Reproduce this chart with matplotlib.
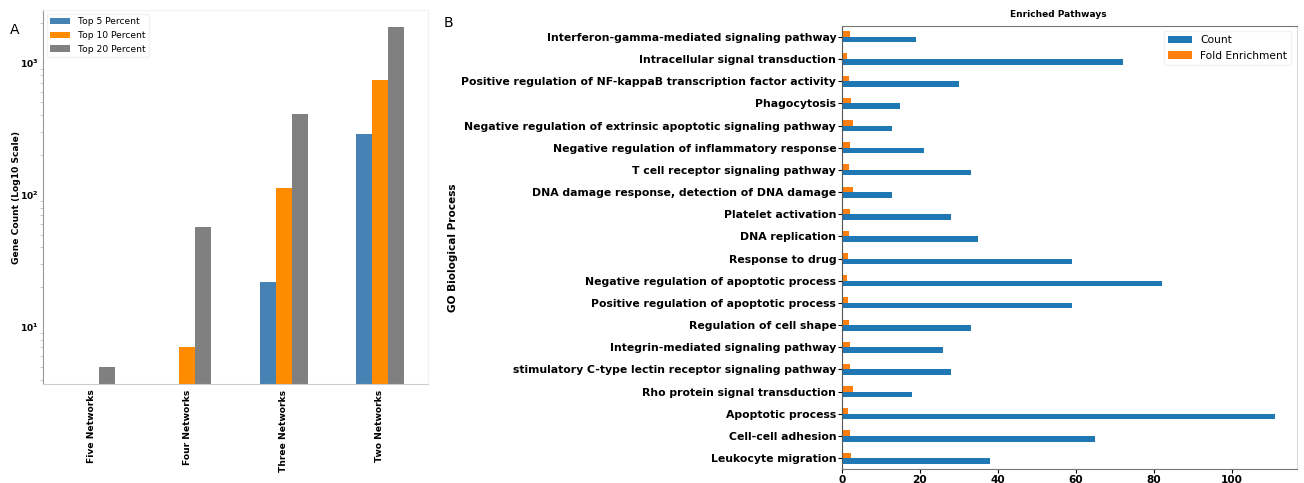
import numpy as np
import matplotlib
matplotlib.use('Agg')
import matplotlib.pyplot as plt

# panel A data
networks = ['Five Networks', 'Four Networks', 'Three Networks', 'Two Networks']
top5 = [np.nan, np.nan, 22, 288]
top10 = [np.nan, 7, 112, 740]
top20 = [5, 57, 407, 1862]
series_names = ['Top 5 Percent', 'Top 10 Percent', 'Top 20 Percent']

# panel B data (listed bottom to top)
pathways = ['Leukocyte migration', 'Cell-cell adhesion', 'Apoptotic process',
            'Rho protein signal transduction',
            'stimulatory C-type lectin receptor signaling pathway',
            'Integrin-mediated signaling pathway', 'Regulation of cell shape',
            'Positive regulation of apoptotic process',
            'Negative regulation of apoptotic process', 'Response to drug',
            'DNA replication', 'Platelet activation',
            'DNA damage response, detection of DNA damage',
            'T cell receptor signaling pathway',
            'Negative regulation of inflammatory response',
            'Negative regulation of extrinsic apoptotic signaling pathway',
            'Phagocytosis',
            'Positive regulation of NF-kappaB transcription factor activity',
            'Intracellular signal transduction',
            'Interferon-gamma-mediated signaling pathway']
counts = [38, 65, 111, 18, 28, 26, 33, 59, 82, 59, 35, 28, 13, 33, 21, 13, 15, 30, 72, 19]
fold = [2.5, 2.0, 1.5, 2.8, 2.2, 2.1, 1.9, 1.5, 1.4, 1.5, 1.8, 2.0, 2.8, 1.8, 2.2, 2.8, 2.5, 1.8, 1.4, 2.2]

plt.rcParams['font.family'] = 'DejaVu Sans'
fig = plt.figure(figsize=(13.04, 4.83), dpi=100)

# ---- panel A
axA = fig.add_axes([43/1304, 99/483, 385/1304, 374/483])
x = np.arange(len(networks))
w = 0.5/3
cols = ['#4682b4', '#ff8c00', '#808080']
for i, (vals, c) in enumerate(zip([top5, top10, top20], cols)):
    axA.bar(x + (i - 1)*w, vals, w, color=c, label=series_names[i])
axA.set_yscale('log')
axA.set_ylim(3.7, 2500)
axA.set_xlim(-0.5, 3.5)
axA.set_xticks(x)
axA.set_xticklabels(networks, rotation=90, fontsize=6.6, fontweight='bold')
for t in axA.get_yticklabels():
    t.set_fontweight('bold')
axA.tick_params(axis='y', which='major', labelsize=6.6, length=0, pad=3)
axA.tick_params(axis='y', which='minor', length=2, color='#bbbbbb')
axA.tick_params(axis='x', length=0, pad=4)
axA.set_ylabel('Gene Count (Log10 Scale)', fontsize=6.6, fontweight='bold')
axA.yaxis.set_label_coords(-0.057, 0.5)
axA.spines['left'].set_color('#999999')
axA.spines['bottom'].set_color('#cccccc')
axA.spines['top'].set_color('#f2f2f2')
axA.spines['right'].set_color('#f2f2f2')
axA.legend(loc='upper left', fontsize=6.6, frameon=True, edgecolor='#eeeeee',
           handlelength=2.2, borderaxespad=0.4, labelspacing=0.5)
fig.text(10/1304, 1 - 30/483, 'A', fontsize=10, va='center', ha='left')

# ---- panel B
axB = fig.add_axes([841.7/1304, 13.7/483, 455/1304, 443.6/483])
y = np.arange(len(pathways))
h = 0.25
axB.barh(y - h/2, counts, h, color='#1f77b4', label='Count')
axB.barh(y + h/2, fold, h, color='#ff7f0e', label='Fold Enrichment')
axB.set_ylim(-0.5, len(pathways) - 0.5)
axB.set_xlim(0, 116.55)
axB.set_yticks(y)
axB.set_yticklabels(pathways, fontsize=7.8, fontweight='bold')
axB.set_xticks([0, 20, 40, 60, 80, 100])
for t in axB.get_xticklabels():
    t.set_fontweight('bold')
axB.tick_params(axis='x', labelsize=7.6, length=3, pad=1)
axB.tick_params(axis='y', length=3, pad=1)
axB.set_ylabel('GO Biological Process', fontsize=7.6, fontweight='bold')
axB.yaxis.set_label_coords(-0.843, 0.5)
axB.set_title('Enriched Pathways', fontsize=6.5, fontweight='bold', pad=6, x=0.476)
axB.spines['left'].set_color('#555555')
axB.spines['top'].set_color('#777777')
axB.spines['bottom'].set_color('#777777')
axB.spines['right'].set_color('#dddddd')
axB.legend(loc='upper right', fontsize=7.7, edgecolor='#eeeeee', handlelength=2.2)
fig.text(444/1304, 1 - 23/483, 'B', fontsize=10, va='center', ha='left')

fig.savefig('out.png', dpi=100)
